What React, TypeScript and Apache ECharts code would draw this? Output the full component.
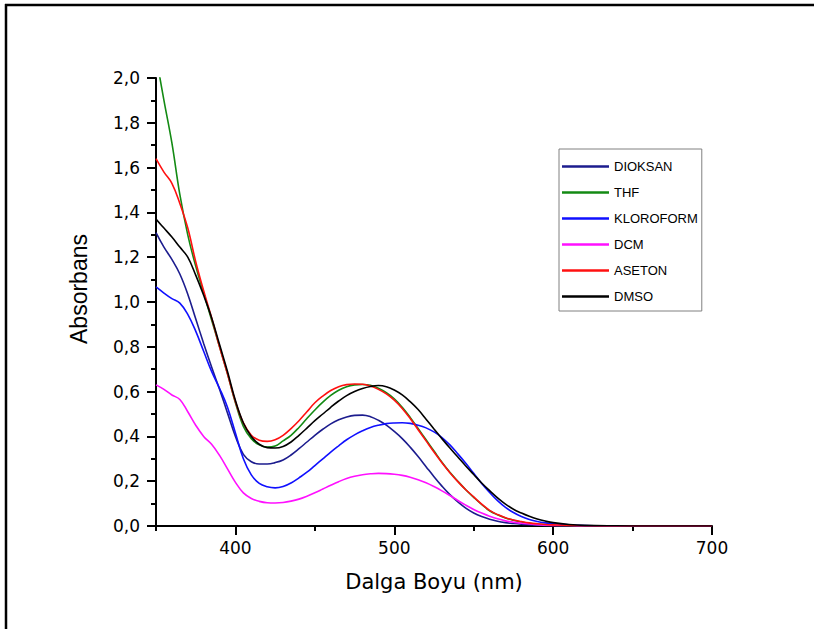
import React, { useEffect, useRef } from "react";
import * as echarts from "echarts";

const wavelengths = [
  350, 355, 360, 365, 370, 375, 380, 385, 390, 395,
  400, 405, 410, 415, 420, 425, 430, 435, 440, 445,
  450, 455, 460, 465, 470, 475, 480, 485, 490, 495,
  500, 505, 510, 515, 520, 525, 530, 535, 540, 545,
  550, 555, 560, 565, 570, 575, 580, 585, 590, 595,
  600, 610, 620, 640, 660, 680, 700,
];

const dioksan = [
  1.31, 1.245, 1.19, 1.125, 1.035, 0.925, 0.815, 0.71, 0.61, 0.505,
  0.4, 0.32, 0.287, 0.277, 0.277, 0.283, 0.295, 0.317, 0.345, 0.375,
  0.405, 0.432, 0.456, 0.474, 0.487, 0.494, 0.495, 0.488, 0.472, 0.45,
  0.422, 0.39, 0.352, 0.31, 0.265, 0.22, 0.178, 0.14, 0.108, 0.08,
  0.058, 0.042, 0.03, 0.021, 0.015, 0.011, 0.008, 0.006, 0.004, 0.003,
  0.002, 0.001, 0, 0, 0, 0, 0,
];
const thf = [
  2.1, 1.9, 1.71, 1.48, 1.3, 1.16, 1.04, 0.92, 0.8, 0.68,
  0.55, 0.445, 0.39, 0.362, 0.352, 0.357, 0.38, 0.405, 0.44, 0.48,
  0.518, 0.553, 0.583, 0.606, 0.622, 0.63, 0.632, 0.628, 0.615, 0.595,
  0.568, 0.53, 0.485, 0.435, 0.385, 0.335, 0.285, 0.24, 0.2, 0.162,
  0.128, 0.096, 0.068, 0.05, 0.036, 0.026, 0.018, 0.012, 0.008, 0.006,
  0.004, 0.002, 0.001, 0, 0, 0, 0,
];
const kloroform = [
  1.067, 1.04, 1.015, 0.995, 0.945, 0.87, 0.78, 0.69, 0.615, 0.53,
  0.415, 0.3, 0.228, 0.19, 0.175, 0.17, 0.176, 0.192, 0.215, 0.24,
  0.27, 0.3, 0.33, 0.358, 0.385, 0.407, 0.425, 0.44, 0.45, 0.457,
  0.46, 0.461, 0.458, 0.45, 0.438, 0.42, 0.395, 0.362, 0.322, 0.28,
  0.235, 0.19, 0.15, 0.113, 0.083, 0.06, 0.042, 0.029, 0.02, 0.014,
  0.01, 0.005, 0.002, 0, 0, 0, 0,
];
const dcm = [
  0.63, 0.61, 0.585, 0.565, 0.51, 0.45, 0.4, 0.365, 0.315, 0.255,
  0.195, 0.148, 0.123, 0.11, 0.104, 0.103, 0.105, 0.111, 0.12, 0.133,
  0.148, 0.165, 0.182, 0.198, 0.212, 0.222, 0.229, 0.233, 0.235, 0.234,
  0.231, 0.226, 0.218, 0.207, 0.193, 0.176, 0.157, 0.136, 0.114, 0.093,
  0.074, 0.058, 0.044, 0.032, 0.023, 0.017, 0.012, 0.009, 0.006, 0.004,
  0.003, 0.002, 0.001, 0, 0, 0, 0,
];
const aseton = [
  1.64, 1.58, 1.53, 1.44, 1.33, 1.18, 1.05, 0.93, 0.8, 0.68,
  0.555, 0.46, 0.405, 0.383, 0.378, 0.385, 0.405, 0.435, 0.47, 0.51,
  0.55, 0.58, 0.605, 0.622, 0.631, 0.634, 0.633, 0.625, 0.61, 0.59,
  0.562, 0.525, 0.48, 0.43, 0.38, 0.33, 0.282, 0.238, 0.198, 0.162,
  0.13, 0.098, 0.07, 0.051, 0.037, 0.027, 0.02, 0.014, 0.01, 0.007,
  0.005, 0.002, 0.001, 0, 0, 0, 0,
];
const dmso = [
  1.37, 1.33, 1.29, 1.245, 1.2, 1.12, 1.03, 0.93, 0.81, 0.69,
  0.56, 0.46, 0.4, 0.365, 0.35, 0.348, 0.355, 0.375, 0.405, 0.437,
  0.47, 0.5, 0.53, 0.558, 0.582, 0.6, 0.614, 0.623, 0.627, 0.622,
  0.607, 0.585, 0.555, 0.52, 0.477, 0.433, 0.39, 0.348, 0.308, 0.268,
  0.23, 0.192, 0.158, 0.126, 0.098, 0.075, 0.058, 0.043, 0.031, 0.022,
  0.015, 0.007, 0.003, 0.001, 0, 0, 0,
];

const seriesNames = ["DIOKSAN", "THF", "KLOROFORM", "DCM", "ASETON", "DMSO"];
const seriesValues = [dioksan, thf, kloroform, dcm, aseton, dmso];
const seriesColors = ["#1c1c8e", "#138a13", "#1010ff", "#ff10ff", "#ff1010", "#000000"];

const xMajorTicks = [400, 500, 600, 700];
const xMinorTicks = [350, 450, 550, 650];

export default function App() {
  const ref = useRef<HTMLDivElement>(null);
  useEffect(() => {
    if (!ref.current) return;
    const chart = echarts.init(ref.current, null, { renderer: "svg" });
    const axisFont = "DejaVu Sans, Arial, sans-serif";
    chart.setOption({
      animation: false,
      backgroundColor: "#ffffff",
      grid: { left: 156, right: 102, top: 78, bottom: 103, containLabel: false },
      legend: {
        data: seriesNames.map((n) => ({ name: n, icon: "rect" })),
        orient: "vertical",
        left: 559,
        top: 149,
        padding: [11, 4, 8, 3],
        itemWidth: 47,
        itemHeight: 2.5,
        itemGap: 13,
        borderColor: "#808080",
        borderWidth: 1,
        textStyle: { fontFamily: "Arial, Liberation Sans, sans-serif", fontSize: 13, color: "#000" },
      },
      xAxis: [
        {
          type: "value",
          min: 350,
          max: 700,
          interval: 50,
          name: "Dalga Boyu (nm)",
          nameLocation: "middle",
          nameGap: 45,
          nameTextStyle: { fontFamily: axisFont, fontSize: 21, color: "#000" },
          axisLine: { show: true, onZero: false, lineStyle: { color: "#000", width: 2 } },
          axisTick: { show: true, customValues: xMajorTicks, length: 9, lineStyle: { color: "#000", width: 2 } },
          axisLabel: {
            customValues: xMajorTicks,
            margin: 13,
            fontFamily: axisFont,
            fontSize: 17,
            color: "#000",
          },
          splitLine: { show: false },
        },
        {
          type: "value",
          min: 350,
          max: 700,
          interval: 50,
          position: "bottom",
          axisLine: { show: false },
          axisTick: { show: true, customValues: xMinorTicks, length: 5, lineStyle: { color: "#000", width: 2 } },
          axisLabel: { show: false },
          splitLine: { show: false },
        },
      ],
      yAxis: {
        type: "value",
        min: 0,
        max: 2,
        interval: 0.2,
        name: "Absorbans",
        nameLocation: "middle",
        nameGap: 66,
        nameRotate: 90,
        nameTextStyle: { fontFamily: "Arial, Liberation Sans, sans-serif", fontSize: 23, color: "#000", padding: [0, 0, 0, 26] },
        axisLine: { show: true, onZero: false, lineStyle: { color: "#000", width: 2 } },
        axisTick: { show: true, length: 9, lineStyle: { color: "#000", width: 2 } },
        minorTick: { show: true, splitNumber: 2, length: 5, lineStyle: { color: "#000", width: 2 } },
        axisLabel: {
          margin: 16,
          fontFamily: axisFont,
          fontSize: 17,
          color: "#000",
          formatter: (v: number) => v.toFixed(1).replace(".", ","),
        },
        splitLine: { show: false },
      },
      graphic: [
        { type: "line", shape: { x1: 5, y1: 5, x2: 814, y2: 5 }, style: { stroke: "#000", lineWidth: 2.5 } },
        { type: "line", shape: { x1: 6, y1: 4, x2: 6, y2: 629 }, style: { stroke: "#000", lineWidth: 2.5 } },
      ],
      series: seriesNames.map((name, i) => ({
        name,
        type: "line",
        xAxisIndex: 0,
        yAxisIndex: 0,
        symbol: "none",
        smooth: 0.4,
        clip: true,
        color: seriesColors[i],
        lineStyle: { color: seriesColors[i], width: 1.6 },
        data: wavelengths.map((w, j) => [w, seriesValues[i][j]]),
      })),
    });
    return () => chart.dispose();
  }, []);
  return <div ref={ref} style={{ position: "fixed", left: 0, top: 0, width: 814, height: 629 }} />;
}
